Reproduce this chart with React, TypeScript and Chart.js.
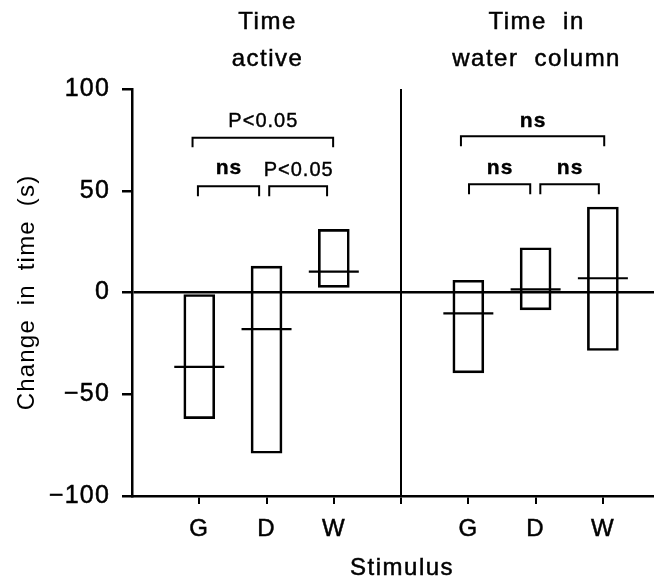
import React, { useEffect, useRef } from "react";
import { Chart, registerables } from "chart.js";

Chart.register(...registerables);

const FONT = "'Liberation Sans', Arial, Helvetica, sans-serif";

// ---- data ----
const panelTitles = [["Time", "active"], ["Time in", "water column"]];
const panelCenters = [2, 6];
const xAxisTitle = "Stimulus";
const yAxisTitle = "Change in time (s)";
const xTickPositions = [1, 2, 3, 4, 5, 6, 7];
const xTickLabels = ["G", "D", "W", "", "G", "D", "W"];
const dividerPosition = 4;
const yTicks = [-100, -50, 0, 50, 100];

const boxPositions = [1, 2, 3, 5, 6, 7];
const boxHigh = [-1, 13, 31, 6, 22, 42];
const boxLow = [-62, -79, 2.5, -39.5, -8.5, -28.5];
const medians = [-36.5, -18, 10.3, -10.3, 1.5, 7];

const bracketLabels = ["P<0.05", "ns", "P<0.05", "ns", "ns", "ns"];
const bracketStart = [0.9, 0.98, 2.04, 4.89, 5.01, 6.07];
const bracketEnd = [2.99, 1.89, 2.9, 7.02, 5.92, 6.94];
const bracketLevel = [76, 52.2, 52.2, 76.8, 53.2, 53.2];
const bracketDrop = [71.4, 47.3, 47.3, 71.9, 48.3, 48.3];
const labelLevel = [84, 61, 60, 84, 61, 61];

export default function App() {
  const ref = useRef<HTMLCanvasElement>(null);

  useEffect(() => {
    const canvas = ref.current!;
    const transparent = "rgba(0,0,0,0)";

    const spacingPlugin = {
      id: "spacing",
      beforeDraw(chart: any) {
        chart.ctx.letterSpacing = "1.2px";
        chart.ctx.wordSpacing = "6px";
      },
    };

    const drawText = (ctx: any, t: string, px: number, py: number) => {
      ctx.fillText(t, px, py);
      ctx.strokeText(t, px, py);
    };

    const annotPlugin = {
      id: "annot",
      afterDraw(chart: any) {
        const { ctx } = chart;
        const x = chart.scales.x;
        const y = chart.scales.y;
        ctx.save();
        ctx.fillStyle = "#000";
        ctx.strokeStyle = "#000";
        ctx.textAlign = "center";
        ctx.textBaseline = "middle";
        ctx.font = `24px ${FONT}`;
        ctx.letterSpacing = "1.5px";
        ctx.wordSpacing = "8px";
        ctx.lineWidth = 0.5;
        const titleY = [22, 59];
        panelTitles.forEach((lines, i) => {
          const px = x.getPixelForValue(panelCenters[i]);
          lines.forEach((t, j) => drawText(ctx, t, px + 1, titleY[j]));
        });
        // x axis title centred under the panel divider
        drawText(ctx, xAxisTitle, x.getPixelForValue(dividerPosition) + 1, 568);

        ctx.wordSpacing = "0px";
        bracketLabels.forEach((lab, i) => {
          const x0 = x.getPixelForValue(bracketStart[i]);
          const x1 = x.getPixelForValue(bracketEnd[i]);
          const yt = y.getPixelForValue(bracketLevel[i]);
          const yb = y.getPixelForValue(bracketDrop[i]);
          ctx.lineWidth = 2;
          ctx.beginPath();
          ctx.moveTo(x0, yb);
          ctx.lineTo(x0, yt);
          ctx.lineTo(x1, yt);
          ctx.lineTo(x1, yb);
          ctx.stroke();
          ctx.font = lab === "ns" ? `bold 21px ${FONT}` : `20px ${FONT}`;
          ctx.letterSpacing = "1px";
          ctx.lineWidth = 0.4;
          drawText(ctx, lab, (x0 + x1) / 2 + 0.5, y.getPixelForValue(labelLevel[i]));
        });
        ctx.restore();
      },
    };

    const chart = new Chart(canvas, {
      type: "bar",
      data: {
        datasets: [
          {
            type: "bar",
            data: boxPositions.map((p, i) => ({ x: p, y: [boxLow[i], boxHigh[i]] })) as any,
            backgroundColor: transparent,
            borderColor: "#000",
            borderWidth: 2,
            borderSkipped: false,
            barThickness: 31,
          } as any,
          {
            type: "line",
            data: boxPositions.map((p, i) => ({ x: p, y: medians[i] })),
            showLine: false,
            pointStyle: "line",
            pointRadius: 25,
            pointHoverRadius: 25,
            pointBorderWidth: 2.2,
            pointBorderColor: "#000",
            pointBackgroundColor: "#000",
          } as any,
        ],
      },
      options: {
        responsive: false,
        animation: false,
        devicePixelRatio: 1,
        layout: { autoPadding: false, padding: { top: 89, right: 0, bottom: 0, left: 0 } },
        plugins: {
          legend: { display: false },
          tooltip: { enabled: false },
        },
        events: [],
        scales: {
          x: {
            type: "linear",
            min: 0,
            max: 7.76,
            offset: false,
            afterFit(scale: any) {
              scale.height = 84;
              scale.paddingLeft = 0;
              scale.paddingRight = 0;
            },
            afterBuildTicks(scale: any) {
              scale.ticks = xTickPositions.map((v) => ({ value: v }));
            },
            ticks: {
              autoSkip: false,
              maxRotation: 0,
              padding: 11,
              color: "#000",
              textStrokeColor: "#000",
              textStrokeWidth: 0.5,
              font: { family: FONT, size: 24 },
              callback: (_v: any, i: number) => xTickLabels[i],
            },
            grid: {
              offset: false,
              color: (c: any) => (c.tick && c.tick.value === dividerPosition ? "#000" : transparent),
              lineWidth: 2,
              tickColor: "#000",
              tickLength: 8,
              tickWidth: 2,
            },
            border: { color: "#000", width: 2.5 },
            title: { display: false },
          },
          y: {
            type: "linear",
            min: -100,
            max: 100,
            afterFit(scale: any) {
              scale.width = 132;
              scale.paddingTop = 0;
              scale.paddingBottom = 0;
            },
            afterBuildTicks(scale: any) {
              scale.ticks = yTicks.map((v) => ({ value: v }));
            },
            ticks: {
              padding: 12,
              color: "#000",
              textStrokeColor: "#000",
              textStrokeWidth: 0.5,
              font: { family: FONT, size: 25 },
              callback: (v: any) => (v < 0 ? "\u2212" + Math.abs(v) : String(v)),
            },
            grid: {
              color: (c: any) => (c.tick && c.tick.value === 0 ? "#000" : transparent),
              lineWidth: 2.5,
              tickColor: "#000",
              tickLength: 10,
              tickWidth: 2.5,
            },
            border: { color: "#000", width: 2.5 },
            title: {
              display: true,
              text: yAxisTitle,
              color: "#000",
              font: { family: FONT, size: 24, lineHeight: 1 },
              padding: { top: 15, bottom: 0 },
            },
          },
        },
      } as any,
      plugins: [spacingPlugin, annotPlugin],
    });

    return () => chart.destroy();
  }, []);

  return (
    <div style={{ position: "fixed", left: 0, top: 0, width: 654, height: 580, background: "#fff" }}>
      <canvas ref={ref} width={654} height={580} style={{ display: "block" }} />
    </div>
  );
}
